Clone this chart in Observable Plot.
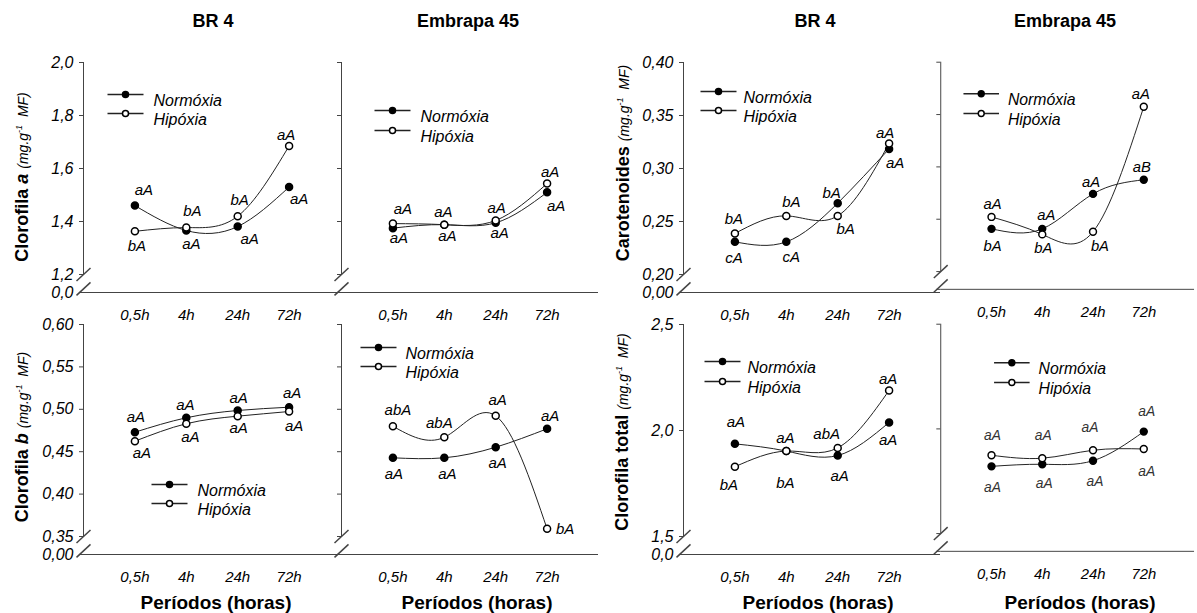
<!DOCTYPE html>
<html><head><meta charset="utf-8">
<script src="https://cdn.jsdelivr.net/npm/d3@7"></script>
<script src="https://cdn.jsdelivr.net/npm/@observablehq/plot@0.6"></script>
<style>
body{margin:0;background:#fff;font-family:"Liberation Sans",Arial,sans-serif;color:#000}
#fig{position:relative;width:1197px;height:613px;overflow:hidden;background:#fff}
.abs{position:absolute;white-space:nowrap}
.title{font-weight:bold;font-size:18px;transform:translate(-50%,-50%)}
.xtitle{font-weight:bold;font-size:19px;transform:translate(-50%,-50%)}
.ytitle{font-size:18px;font-weight:bold;transform:translate(-50%,-50%) rotate(-90deg)}
.units{font-style:italic;font-weight:normal;font-size:14px}
.units sup{font-size:9px}
.plotbox{position:absolute}
</style></head><body><div id="fig"></div>
<script>
// ---------- DATA ----------
const periods = ["0,5h", "4h", "24h", "72h"];
const seriesNames = ["Normóxia", "Hipóxia"];
const cultivars = ["BR 4", "Embrapa 45"];
const xTitle = "Períodos (horas)";

// Clorofila a
const cloroA_BR4_N = [1.46, 1.366, 1.381, 1.53];
const cloroA_BR4_H = [1.363, 1.377, 1.42, 1.685];
const cloroA_E45_N = [1.375, 1.388, 1.395, 1.51];
const cloroA_E45_H = [1.392, 1.388, 1.404, 1.543];
// Carotenoides
const carot_BR4_N = [0.2308, 0.2308, 0.2673, 0.3185];
const carot_BR4_H = [0.2387, 0.2553, 0.2553, 0.3236];
const carot_E45_N = [0.2408, 0.2408, 0.2742, 0.2877];
const carot_E45_H = [0.2522, 0.2355, 0.238, 0.3575];
// Clorofila b
const cloroB_BR4_N = [0.473, 0.490, 0.4986, 0.5025];
const cloroB_BR4_H = [0.4624, 0.483, 0.4919, 0.4974];
const cloroB_E45_N = [0.4428, 0.4428, 0.4553, 0.477];
const cloroB_E45_H = [0.480, 0.467, 0.4923, 0.359];
// Clorofila total
const total_BR4_N = [1.937, 1.903, 1.882, 2.038];
const total_BR4_H = [1.829, 1.903, 1.918, 2.189];
const total_E45_N = [1.821, 1.831, 1.848, 1.987];
const total_E45_H = [1.874, 1.860, 1.898, 1.904];

// significance letters
const let_cloroA_BR4_N = ["aA", "aA", "aA", "aA"];
const let_cloroA_BR4_H = ["bA", "bA", "bA", "aA"];
const let_cloroA_E45_N = ["aA", "aA", "aA", "aA"];
const let_cloroA_E45_H = ["aA", "aA", "aA", "aA"];
const let_carot_BR4_N = ["cA", "cA", "bA", "aA"];
const let_carot_BR4_H = ["bA", "bA", "bA", "aA"];
const let_carot_E45_N = ["bA", "aA", "aA", "aB"];
const let_carot_E45_H = ["aA", "bA", "bA", "aA"];
const let_cloroB_BR4_N = ["aA", "aA", "aA", "aA"];
const let_cloroB_BR4_H = ["aA", "aA", "aA", "aA"];
const let_cloroB_E45_N = ["aA", "aA", "aA", "aA"];
const let_cloroB_E45_H = ["abA", "abA", "aA", "bA"];
const let_total_BR4_N = ["aA", "aA", "aA", "aA"];
const let_total_BR4_H = ["bA", "bA", "abA", "aA"];
const let_total_E45_N = ["aA", "aA", "aA", "aA"];
const let_total_E45_H = ["aA", "aA", "aA", "aA"];

// y ticks
const cloroA_ticks = [1.2, 1.4, 1.6, 1.8, 2.0];
const cloroA_tickLabels = ["1,2", "1,4", "1,6", "1,8", "2,0"];
const carot_ticks = [0.20, 0.25, 0.30, 0.35, 0.40];
const carot_tickLabels = ["0,20", "0,25", "0,30", "0,35", "0,40"];
const cloroB_ticks = [0.35, 0.40, 0.45, 0.50, 0.55, 0.60];
const cloroB_tickLabels = ["0,35", "0,40", "0,45", "0,50", "0,55", "0,60"];
const total_ticks = [1.5, 2.0, 2.5];
const total_tickLabels = ["1,5", "2,0", "2,5"];
const zeroLabel_1dec = "0,0";
const zeroLabel_2dec = "0,00";

// ---------- LAYOUT (positions & styles) ----------
const AXC = "#444", LC = "#222";
const colAxisX = {A: 83, B: 341, C: 683, D: 941};
const rowTopY = {top: 62, bottom: 324};
const ML = 60, MR = 3, MT = 22, MB = 40, PW = 257, FH = 230, MAIN = 212, GAP = 18;

const axes = {
  cloroA: {ticks: cloroA_ticks, labels: cloroA_tickLabels, zero: zeroLabel_1dec},
  carot: {ticks: carot_ticks, labels: carot_tickLabels, zero: zeroLabel_2dec},
  cloroB: {ticks: cloroB_ticks, labels: cloroB_tickLabels, zero: zeroLabel_2dec},
  total: {ticks: total_ticks, labels: total_tickLabels, zero: zeroLabel_1dec}
};

const panels = [
  {col: "A", row: "top", axis: "cloroA", N: cloroA_BR4_N, H: cloroA_BR4_H, lN: let_cloroA_BR4_N, lH: let_cloroA_BR4_H,
   oN: [[9,-15],[5,14],[12,13],[10,12]], oH: [[2,15],[6,-16],[2,-16],[-3,-11]], leg: {cx:42, tx:70, y1:32, y2:51}},
  {col: "B", row: "top", axis: "cloroA", N: cloroA_E45_N, H: cloroA_E45_H, lN: let_cloroA_E45_N, lH: let_cloroA_E45_H,
   oN: [[6,10],[3,12],[4,10],[9,14]], oH: [[10,-14],[-1,-12],[1,-12],[3,-11]], leg: {cx:51, tx:79, y1:48, y2:68}},
  {col: "C", row: "top", axis: "carot", N: carot_BR4_N, H: carot_BR4_H, lN: let_carot_BR4_N, lH: let_carot_BR4_H,
   oN: [[-1,16],[5,15],[-6,-10],[6,14]], oH: [[-1,-14],[5,-14],[8,13],[-4,-10]], leg: {cx:35, tx:60, y1:29, y2:48}},
  {col: "D", row: "top", axis: "carot", N: carot_E45_N, H: carot_E45_H, lN: let_carot_E45_N, lH: let_carot_E45_H,
   oN: [[1,18],[4,-14],[-2,-12],[-2,-13]], oH: [[1,-13],[1,14],[7,15],[-3,-13]], leg: {cx:41, tx:68, y1:32, y2:52}},
  {col: "A", row: "bottom", axis: "cloroB", N: cloroB_BR4_N, H: cloroB_BR4_H, lN: let_cloroB_BR4_N, lH: let_cloroB_BR4_H,
   oN: [[1,-15],[-1,-13],[1,-12],[3,-14]], oH: [[7,12],[4,13],[1,12],[5,15]], leg: {cx:86, tx:114, y1:160, y2:179}},
  {col: "B", row: "bottom", axis: "cloroB", N: cloroB_E45_N, H: cloroB_E45_H, lN: let_cloroB_E45_N, lH: let_cloroB_E45_H,
   oN: [[1,16],[3,16],[2,16],[3,-13]], oH: [[5,-16],[-5,-14],[2,-16],[18,0]], leg: {cx:37, tx:64, y1:23, y2:42}},
  {col: "C", row: "bottom", axis: "total", N: total_BR4_N, H: total_BR4_H, lN: let_total_BR4_N, lH: let_total_BR4_H,
   oN: [[1,-22],[-1,-13],[2,21],[-1,18]], oH: [[-6,18],[-1,32],[-11,-14],[-1,-11]], leg: {cx:39, tx:64, y1:37, y2:57}},
  {col: "D", row: "bottom", axis: "total", N: total_E45_N, H: total_E45_H, lN: let_total_E45_N, lH: let_total_E45_H,
   oN: [[1,21],[2,20],[2,21],[3,-20]], oH: [[1,-20],[1,-23],[-3,-23],[3,23]], leg: {cx:72, tx:99, y1:39, y2:59}, small: true}
];

const slash = {draw(ctx) { ctx.moveTo(-7, 6.5); ctx.lineTo(7, -6.5); }};
const hline = {draw(ctx) { ctx.moveTo(-18, 0); ctx.lineTo(18, 0); }};

function makePanel(p) {
  const ax = axes[p.axis];
  const lo = ax.ticks[0], hi = ax.ticks[ax.ticks.length - 1];
  const brk = lo - (hi - lo) * GAP / MAIN;
  const showY = p.col === "A" || p.col === "C";
  const fmt = new Map(ax.ticks.map((t, i) => [t, ax.labels[i]]));
  fmt.set(brk, ax.zero);
  const rowsN = p.N.map((v, i) => ({i, v}));
  const rowsH = p.H.map((v, i) => ({i, v}));
  const lblSize = p.small ? 14 : 15, lblFill = p.small ? "#333" : "#000";
  const marks = [
    Plot.ruleY([brk], {stroke: AXC}),
    Plot.ruleX([-1], {y1: lo, y2: hi, stroke: AXC}),
    Plot.dot([lo, brk + (lo - brk) * 0.2], {x: () => -1, y: d => d, symbol: slash, stroke: AXC}),
    Plot.axisY({ticks: [brk, ...ax.ticks], tickSize: 4, tickPadding: 6, stroke: AXC,
      tickFormat: showY ? (d => fmt.get(d)) : (() => ""), fontStyle: "italic", fontSize: 16, label: null}),
    Plot.axisX({ticks: [0, 1, 2, 3], tickSize: 0, tickPadding: 17, tickFormat: d => periods[d],
      fontStyle: "italic", fontSize: 15, label: null}),
    Plot.line(rowsN, {x: "i", y: "v", curve: "natural", stroke: LC, strokeWidth: 1}),
    Plot.line(rowsH, {x: "i", y: "v", curve: "natural", stroke: LC, strokeWidth: 1}),
    Plot.dot(rowsN, {x: "i", y: "v", r: 3.5, fill: "#000", stroke: "#000"}),
    Plot.dot(rowsH, {x: "i", y: "v", r: 3.5, fill: "#fff", stroke: "#000"}),
    // legend
    Plot.dot([0], {frameAnchor: "top-left", dx: p.leg.cx, dy: p.leg.y1, symbol: hline, stroke: LC}),
    Plot.dot([0], {frameAnchor: "top-left", dx: p.leg.cx, dy: p.leg.y1, r: 3, fill: "#000", stroke: "#000"}),
    Plot.text([seriesNames[0]], {frameAnchor: "top-left", dx: p.leg.tx, dy: p.leg.y1, text: d => d,
      textAnchor: "start", fontStyle: "italic", fontSize: 16}),
    Plot.dot([0], {frameAnchor: "top-left", dx: p.leg.cx, dy: p.leg.y2, symbol: hline, stroke: LC}),
    Plot.dot([0], {frameAnchor: "top-left", dx: p.leg.cx, dy: p.leg.y2, r: 3, fill: "#fff", stroke: "#000"}),
    Plot.text([seriesNames[1]], {frameAnchor: "top-left", dx: p.leg.tx, dy: p.leg.y2, text: d => d,
      textAnchor: "start", fontStyle: "italic", fontSize: 16})
  ];
  rowsN.forEach((r, i) => marks.push(Plot.text([r], {x: "i", y: "v", text: () => p.lN[i],
    dx: p.oN[i][0], dy: p.oN[i][1], fontStyle: "italic", fontSize: lblSize, fill: lblFill})));
  rowsH.forEach((r, i) => marks.push(Plot.text([r], {x: "i", y: "v", text: () => p.lH[i],
    dx: p.oH[i][0], dy: p.oH[i][1], fontStyle: "italic", fontSize: lblSize, fill: lblFill})));

  const svg = Plot.plot({
    width: ML + PW + MR, height: MT + FH + MB,
    marginLeft: ML, marginRight: MR, marginTop: MT, marginBottom: MB,
    x: {type: "linear", domain: [-1, 4]},
    y: {type: "linear", domain: [brk, hi]},
    style: {background: "transparent", overflow: "visible", fontFamily: "'Liberation Sans', Arial, sans-serif", color: "#000"},
    marks
  });
  const box = document.createElement("div");
  box.className = "plotbox";
  box.style.left = (colAxisX[p.col] - ML) + "px";
  box.style.top = (rowTopY[p.row] - MT) + "px";
  box.appendChild(svg);
  return box;
}

const fig = document.getElementById("fig");
panels.forEach(p => fig.appendChild(makePanel(p)));

function addDiv(cls, html, x, y) {
  const d = document.createElement("div");
  d.className = "abs " + cls;
  d.style.left = x + "px"; d.style.top = y + "px";
  d.innerHTML = html;
  fig.appendChild(d);
}
// column titles
addDiv("title", cultivars[0], 213, 21);
addDiv("title", cultivars[1], 468, 21);
addDiv("title", cultivars[0], 815, 21);
addDiv("title", cultivars[1], 1065, 21);
// x titles
[216, 477, 818, 1080].forEach(x => addDiv("xtitle", xTitle, x, 603));
// y titles
const units = ' <span class="units">(mg.g<sup>-1</sup>&nbsp; MF)</span>';
addDiv("ytitle", 'Clorofila <i>a</i>' + units, 22, 177);
addDiv("ytitle", 'Clorofila <i>b</i>' + units, 22, 437);
addDiv("ytitle", 'Carotenoides' + units, 623, 163);
addDiv("ytitle", 'Clorofila total' + units, 622, 432);
</script>
</body></html>
